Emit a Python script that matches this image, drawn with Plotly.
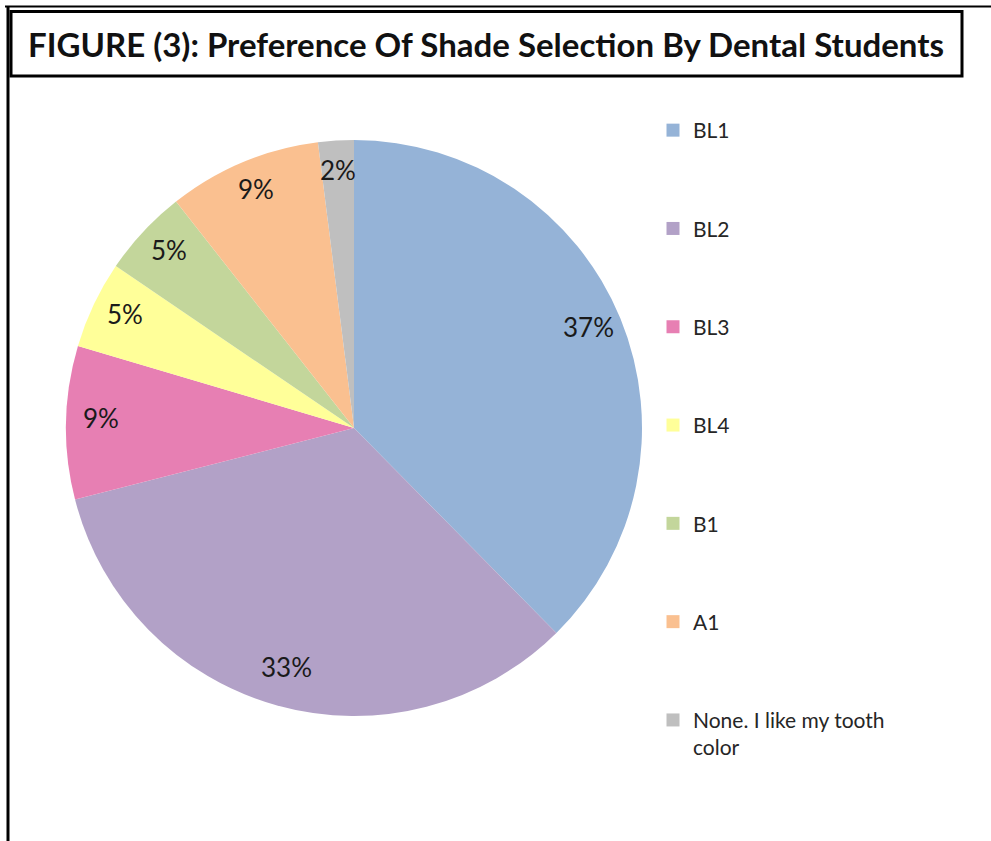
import math
import plotly.graph_objects as go

# ---- data ----
categories = ["BL1", "BL2", "BL3", "BL4", "B1", "A1", "None. I like my tooth color"]
values = [37.6, 33.4, 8.6, 4.9, 4.9, 8.6, 2.0]
value_labels = ["37%", "33%", "9%", "5%", "5%", "9%", "2%"]
colors = ["#95B3D7", "#B2A1C7", "#E77FB3", "#FFFF99", "#C3D69B", "#FAC090", "#BFBFBF"]
title_text = "FIGURE (3): Preference Of Shade Selection By Dental Students"

W, H = 991, 841
FONT = "Lato"

def px(x):
    return x / W

def py(y):
    return 1 - y / H

# pie geometry (pixels)
cx, cy, R = 354, 428, 288

fig = go.Figure()
fig.add_trace(go.Pie(
    labels=categories,
    values=values,
    sort=False,
    direction="clockwise",
    rotation=0,
    marker=dict(colors=colors, line=dict(width=0)),
    textinfo="none",
    hoverinfo="label+percent",
    showlegend=False,
    domain=dict(x=[px(cx - R), px(cx + R)], y=[py(cy + R), py(cy - R)]),
))

# legend via dummy traces (one per category for controlled spacing)
for i, (cat, col) in enumerate(zip(categories, colors)):
    name = cat.replace("my tooth color", "my tooth<br>color")
    fig.add_trace(go.Scatter(
        x=[None], y=[None], mode="markers", name=name,
        marker=dict(symbol="square", size=13, color=col),
        legendgroup=f"g{i}", showlegend=True, hoverinfo="skip",
    ))

# slice labels, positioned from the data
annotations = []
total = sum(values)
cum = 0.0
for v, lab in zip(values, value_labels):
    mid = (cum + v / 2) / total * 2 * math.pi
    cum += v
    rr = 0.88 * R
    x = cx + rr * math.sin(mid)
    y = cy - rr * math.cos(mid) - 5
    annotations.append(dict(
        x=px(x), y=py(y), xref="paper", yref="paper", text=lab, showarrow=False,
        font=dict(family=FONT, size=26, color="#1a1a1a"), xanchor="center", yanchor="middle",
    ))

annotations.append(dict(
    x=px((10 + 962) / 2), y=py(44), xref="paper", yref="paper", text=f"<b>{title_text}</b>",
    showarrow=False, font=dict(family=FONT, size=33, color="#111111"),
    xanchor="center", yanchor="middle",
))

shapes = [
    dict(type="line", xref="paper", yref="paper", x0=px(5), x1=px(991), y0=py(6.5), y1=py(6.5),
         line=dict(color="black", width=2)),
    dict(type="line", xref="paper", yref="paper", x0=px(8), x1=px(8), y0=py(6), y1=py(841),
         line=dict(color="black", width=3)),
    dict(type="rect", xref="paper", yref="paper", x0=px(11), x1=px(962), y0=py(76), y1=py(11.5),
         line=dict(color="black", width=3), fillcolor="rgba(0,0,0,0)"),
]

fig.update_layout(
    width=W, height=H,
    margin=dict(l=0, r=0, t=0, b=0),
    paper_bgcolor="white", plot_bgcolor="white",
    xaxis=dict(visible=False), yaxis=dict(visible=False),
    showlegend=True,
    legend=dict(
        x=px(653), y=py(110), xanchor="left", yanchor="top",
        font=dict(family=FONT, size=21, color="#262626"),
        traceorder="grouped", tracegroupgap=68, valign="top",
        bgcolor="rgba(0,0,0,0)", itemclick=False, itemdoubleclick=False,
    ),
    annotations=annotations,
    shapes=shapes,
)

fig.write_html("out.html")
